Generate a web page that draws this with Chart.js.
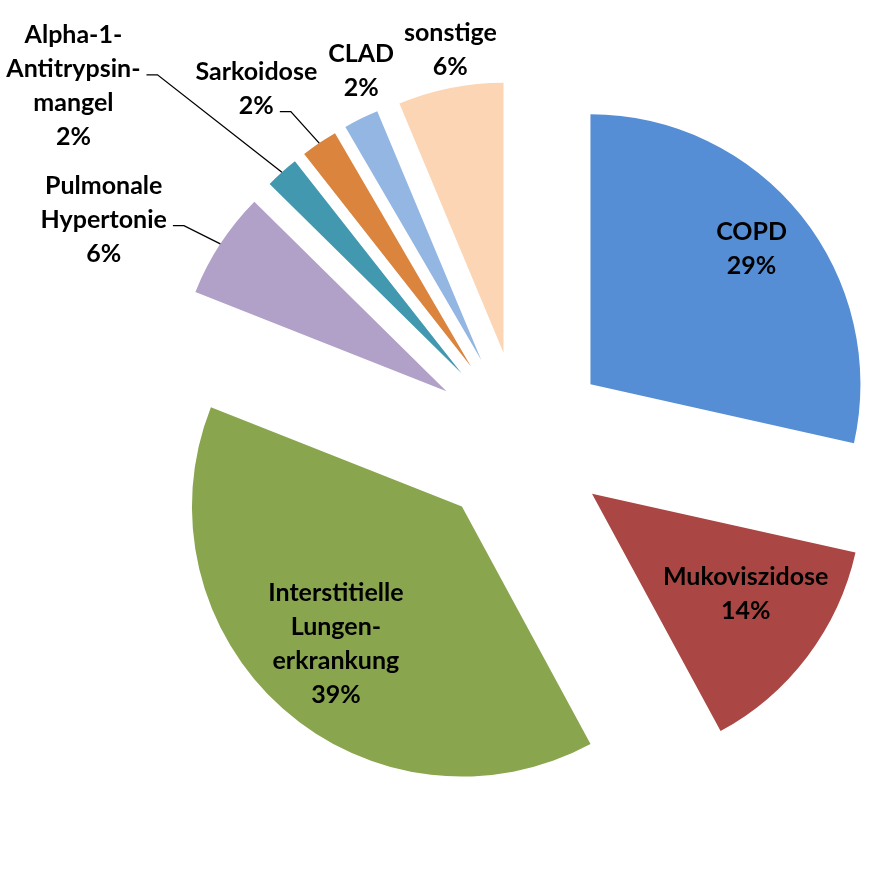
<!DOCTYPE html>
<html>
<head>
<meta charset="utf-8">
<script src="https://cdn.jsdelivr.net/npm/chart.js@4.4.1/dist/chart.umd.min.js"></script>
<style>
  html, body { margin: 0; padding: 0; background: #fff; }
  canvas { display: block; }
</style>
</head>
<body>
<canvas id="chart" width="869" height="869"></canvas>
<script>
// categories as shown on the slices (line breaks as in the picture)
const categories = [
  ['COPD'],
  ['Mukoviszidose'],
  ['Interstitielle', 'Lungen-', 'erkrankung'],
  ['Pulmonale', 'Hypertonie'],
  ['Alpha-1-', 'Antitrypsin-', 'mangel'],
  ['Sarkoidose'],
  ['CLAD'],
  ['sonstige']
];
// shares in per mille
const shares = [285, 136, 389, 64, 20, 22, 21, 63];
const colors = ['#558ed5', '#aa4643', '#89a54e', '#b1a0c7', '#4198af', '#db843d', '#93b6e3', '#fcd5b5'];

// label placement: fraction of radius and turn (deg) from slice middle
const labelRadius = [0.78, 0.68, 0.69, 1.42, 1.79, 1.30, 1.16, 1.14];
const labelTurn = [-1.4, -3.9, 1.0, -6.5, -11.7, -3.5, 3.9, 1.4];
const leaders = [false, false, false, true, true, true, false, false];

const EXPLODE = 89;
const LINE_H = 34;
const FONT = 'bold 25px Lato, "Open Sans", sans-serif';

// push every slice out from the centre by the same distance
const explodePlugin = {
  id: 'explode',
  afterUpdate(chart) {
    const area = chart.chartArea;
    const cx = (area.left + area.right) / 2;
    const cy = (area.top + area.bottom) / 2;
    chart.getDatasetMeta(0).data.forEach(arc => {
      const mid = (arc.startAngle + arc.endAngle) / 2;
      arc.x = cx + Math.cos(mid) * EXPLODE;
      arc.y = cy + Math.sin(mid) * EXPLODE;
    });
  }
};

const labelPlugin = {
  id: 'sliceLabels',
  afterDatasetsDraw(chart) {
    const ctx = chart.ctx;
    const total = shares.reduce((a, b) => a + b, 0);
    ctx.save();
    ctx.font = FONT;
    ctx.fillStyle = '#000';
    ctx.strokeStyle = '#000';
    ctx.lineWidth = 1.3;
    ctx.textAlign = 'center';
    ctx.textBaseline = 'middle';
    chart.getDatasetMeta(0).data.forEach((arc, i) => {
      const mid = (arc.startAngle + arc.endAngle) / 2;
      const r = arc.outerRadius;
      const a = mid + labelTurn[i] * Math.PI / 180;
      const x = arc.x + Math.cos(a) * r * labelRadius[i];
      const y = arc.y + Math.sin(a) * r * labelRadius[i];
      const lines = categories[i].concat(Math.round(shares[i] * 100 / total) + '%');
      const top = y - (lines.length - 1) * LINE_H / 2;
      lines.forEach((t, k) => ctx.fillText(t, x, top + k * LINE_H));
      if (leaders[i]) {
        const ly = top + LINE_H + 6;
        const lx = x + ctx.measureText(lines[1]).width / 2 + 6;
        ctx.beginPath();
        ctx.moveTo(lx, ly);
        ctx.lineTo(lx + 11, ly);
        ctx.lineTo(arc.x + Math.cos(mid) * r, arc.y + Math.sin(mid) * r);
        ctx.stroke();
      }
    });
    ctx.restore();
  }
};

new Chart(document.getElementById('chart'), {
  type: 'pie',
  data: {
    labels: categories,
    datasets: [{
      data: shares,
      backgroundColor: colors,
      borderWidth: 0
    }]
  },
  options: {
    responsive: false,
    animation: false,
    events: [],
    radius: 270,
    layout: { padding: { left: 173, top: 11 } },
    plugins: {
      legend: { display: false },
      tooltip: { enabled: false }
    }
  },
  plugins: [explodePlugin, labelPlugin]
});
</script>
</body>
</html>
